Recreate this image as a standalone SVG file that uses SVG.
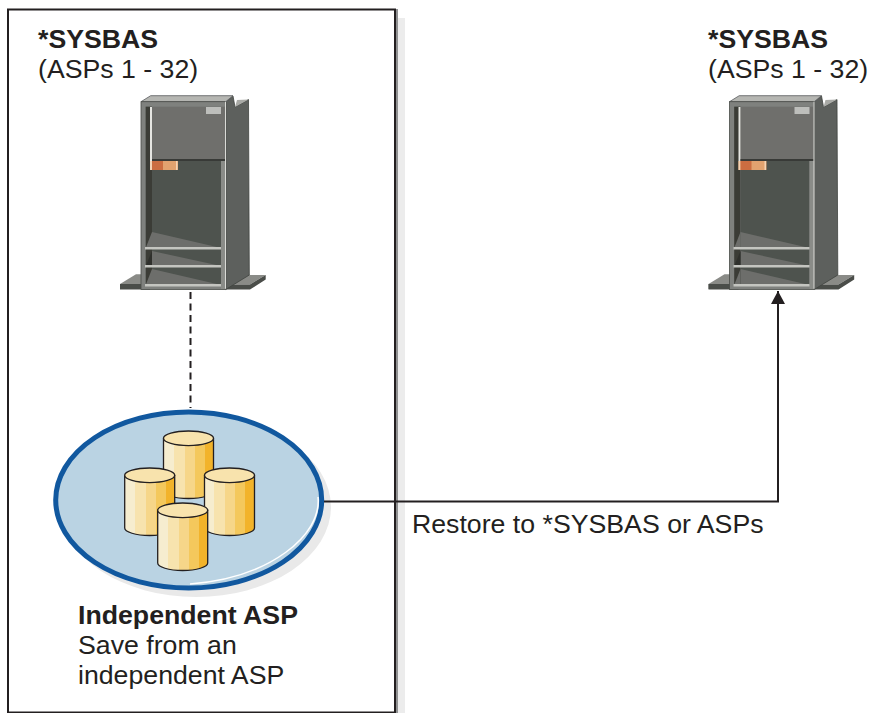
<svg xmlns="http://www.w3.org/2000/svg" xmlns:xlink="http://www.w3.org/1999/xlink" width="870" height="713" viewBox="0 0 870 713">
<style>
text{font-family:"Liberation Sans",Arial,sans-serif;font-size:26.700px;fill:#231f20}
.b{font-weight:700}
.conn{fill:none;stroke:#231f20;stroke-width:2}
.bar{fill:#c4c5c0}
.cyl{stroke:#231f20;stroke-width:1.300}
</style>
<defs>
<linearGradient id="cg" x1="0" x2="1" y1="0" y2="0">
<stop offset="0" stop-color="#f6edcf"/><stop offset=".2" stop-color="#f6edcf"/>
<stop offset=".2" stop-color="#f7e3ae"/><stop offset=".42" stop-color="#f7e3ae"/>
<stop offset=".42" stop-color="#f6d689"/><stop offset=".62" stop-color="#f6d689"/>
<stop offset=".62" stop-color="#f4c85c"/><stop offset=".82" stop-color="#f4c85c"/>
<stop offset=".82" stop-color="#f2b32a"/><stop offset="1" stop-color="#f2b32a"/>
</linearGradient>
<marker id="ah" markerUnits="userSpaceOnUse" markerWidth="14" markerHeight="14" refX="13" refY="7" orient="auto">
<path d="M0 0L13 7L0 14Z" fill="#231f20"/>
</marker>
<g id="server">
<path d="M120 284L136 274.300H150V289H120Z" fill="#8a8b87"/>
<path d="M120 284H150V289.500H120Z" fill="#4a4d49"/>
<path d="M240 275H265.700L250 284.500H226Z" fill="#8a8b87"/>
<path d="M226 284.500H250L265.700 275V279.500L250 289.500H226Z" fill="#4a4d49"/>
<path d="M225.700 102L233 96L235 107L248.500 99.500L249.300 275L225.700 289.500Z" fill="#5d605d" stroke="#3f423f" stroke-width=".8"/>
<path d="M235 107L248.500 99.500L237 100Z" fill="#a9aaa6"/>
<path d="M141 101.700L150.700 95.700H233L225.700 101.700Z" fill="#b5b6b2" stroke="#55585a" stroke-width=".8"/>
<rect x="141" y="101.700" width="84.700" height="187.800" fill="#7f817e" stroke="#4a4d49" stroke-width=".8"/>
<rect x="145.700" y="106.700" width="79.300" height="54" fill="#6f6f6c"/>
<rect x="145.700" y="106.700" width="6.300" height="142" fill="#3b3c36"/>
<rect x="150" y="107" width="2" height="54" fill="#e6e6e2"/>
<rect x="152" y="159" width="73" height="2" fill="#383a37"/>
<rect x="152" y="161" width="69" height="124" fill="#4e534e"/>
<path d="M152 248V232L221 248Z" fill="#6d6e6b"/>
<path d="M152 266V251L221 266Z" fill="#6d6e6b"/>
<path d="M152 285V269L221 285Z" fill="#6d6e6b"/>
<path d="M145.700 248H152V266H145.700ZM145.700 266H152V285H145.700Z" fill="#3b3c36"/>
<path d="M145.700 248L152 232V248Z" fill="#6d6e6b"/>
<path d="M145.700 266L152 251V266Z" fill="#2f302c"/>
<path d="M145.700 285L152 269V285Z" fill="#6d6e6b"/>
<rect x="221" y="161" width="4.700" height="128" fill="#8a8c88"/>
<rect x="225" y="101.700" width="1" height="187" fill="#d9dad6"/>
<rect x="145" y="247" width="76" height="2.500" class="bar"/>
<rect x="145" y="265" width="76" height="2.500" class="bar"/>
<rect x="145" y="284" width="76" height="2.500" class="bar"/>
<rect x="150" y="161" width="28" height="9" fill="#e2a26f"/>
<rect x="150" y="161" width="2" height="9" fill="#f5d3b4"/>
<rect x="152" y="161" width="11" height="9" fill="#cb6d41"/>
<rect x="176" y="161" width="1.500" height="9" fill="#f5d3b4"/>
<rect x="206" y="107" width="15" height="7" fill="#bdbebb"/>
</g>
<g id="cyl">
<path class="cyl" d="M0 7.300V60C0 64 11 67.500 25 67.500S50 64 50 60V7.300Z" fill="url(#cg)"/>
<ellipse class="cyl" cx="25" cy="7.300" rx="25" ry="7.300" fill="#f8e3ad"/>
</g>
</defs>
<g id="frame">
<path d="M398 18H405V713H398Z" fill="#ececec"/>
<rect x="395.500" y="9" width="2.500" height="704" fill="#8f9091"/>
<rect x="8" y="9.500" width="387" height="703" fill="#fff" stroke="#231f20" stroke-width="2"/>
</g>
<g id="sysbas-left">
<text class="b" x="38" y="48">*SYSBAS</text>
<text x="38" y="78">(ASPs 1 - 32)</text>
<use href="#server"/>
</g>
<g id="sysbas-right">
<text class="b" x="708" y="48">*SYSBAS</text>
<text x="708" y="78">(ASPs 1 - 32)</text>
<use href="#server" x="588.500"/>
</g>
<g id="independent-asp">
<ellipse cx="196" cy="507" rx="135" ry="90" fill="#e9e9e9"/>
<ellipse cx="188.700" cy="500" rx="133" ry="88" fill="#bad3e3" stroke="#11589f" stroke-width="5"/>
<path d="M318 497C322 535 270 578 190 584" fill="none" stroke="#fff" stroke-width="1.500"/>
<use href="#cyl" x="163.500" y="431"/>
<use href="#cyl" x="124.700" y="468"/>
<use href="#cyl" x="204.500" y="468"/>
<use href="#cyl" x="157.700" y="503"/>
<text class="b" x="78" y="624">Independent ASP</text>
<text x="78" y="654">Save from an</text>
<text x="78" y="684">independent ASP</text>
</g>
<g id="connectors">
<path class="conn" stroke-dasharray="7 4.500" d="M190.500 292V408"/>
<path class="conn" d="M324 501.500H778V291" marker-end="url(#ah)"/>
</g>
<g id="connector-label">
<text x="412" y="533">Restore to *SYSBAS or ASPs</text>
</g>
</svg>
